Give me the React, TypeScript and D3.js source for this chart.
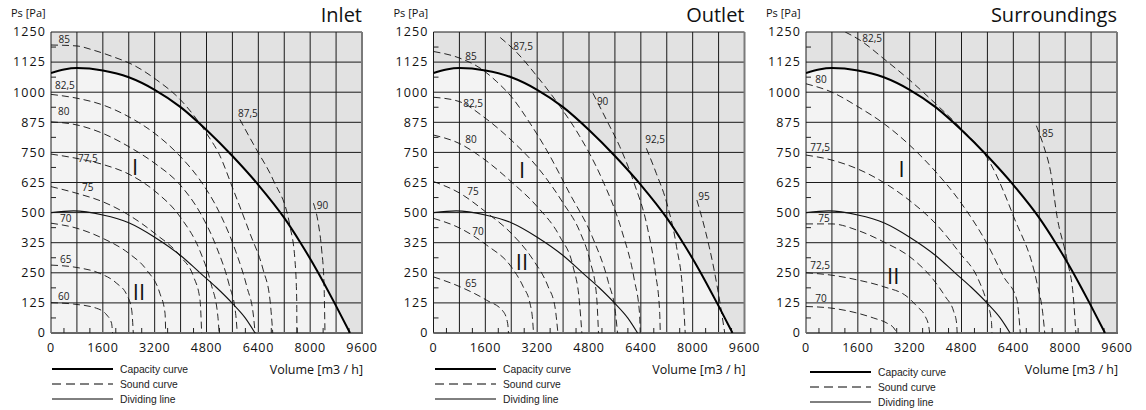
import React from 'react';
import * as d3 from 'd3';

type Pt = [number, number];
type Sound = { level: string; points: Pt[]; label: Pt };

// axes
const xTickValues = [0, 1600, 3200, 4800, 6400, 8000, 9600];
const yTickValues = [0, 125, 250, 375, 500, 625, 750, 875, 1000, 1125, 1250];
const yTickLabels = ['0', '125', '250', '325', '500', '625', '750', '875', '1000', '1125', '1250'];

// same fan in all three charts
const capacityCurve: Pt[] = [
  [0, 1080], [400, 1094], [800, 1100], [1600, 1090], [2400, 1062], [3200, 1010], [4000, 938],
  [4800, 843], [5600, 735], [6400, 615], [7200, 478], [7700, 375], [8200, 262], [8750, 125], [9230, 0],
];
const dividingLine: Pt[] = [
  [0, 500], [700, 507], [1600, 490], [2400, 458], [3200, 398], [4000, 322], [4600, 250],
  [5100, 190], [5600, 123], [6000, 62], [6300, 0],
];

const inletSound: Sound[] = [
  { level: '60', label: [216, 137], points: [[0, 126], [700, 120], [1400, 103], [1720, 75], [1870, 40], [1900, 0]] },
  { level: '65', label: [278, 291], points: [[0, 282], [800, 272], [1500, 248], [2030, 206], [2340, 158], [2490, 96], [2540, 0]] },
  { level: '70', label: [278, 461], points: [[0, 456], [800, 435], [1600, 393], [2400, 331], [2950, 262], [3360, 165], [3520, 82], [3540, 0]] },
  { level: '75', label: [957, 590], points: [[0, 608], [800, 580], [1600, 545], [2400, 490], [3200, 414], [4000, 317], [4400, 234], [4600, 137], [4650, 0]] },
  { level: '77,5', label: [833, 710], points: [[0, 743], [800, 725], [1600, 700], [2400, 660], [3200, 590], [4000, 480], [4600, 340], [4950, 200], [5150, 70], [5190, 0]] },
  { level: '80', label: [216, 905], points: [[0, 877], [800, 864], [1600, 829], [2400, 774], [3200, 705], [4000, 613], [4600, 500], [5100, 360], [5500, 200], [5700, 80], [5750, 0]] },
  { level: '82,5', label: [125, 1013], points: [[0, 991], [800, 975], [1600, 947], [2400, 898], [3200, 829], [4000, 732], [4600, 635], [5200, 500], [5700, 340], [6050, 190], [6250, 70], [6300, 0]] },
  { level: '85', label: [230, 1204], points: [[0, 1196], [800, 1192], [1300, 1175], [1900, 1148], [2540, 1113], [3260, 1051], [4000, 968], [4800, 829], [5200, 740], [5630, 594], [6140, 414], [6550, 262], [6760, 137], [6845, 0]] },
  { level: '87,5', label: [5772, 897], points: [[5830, 887], [6100, 820], [6350, 760], [6860, 635], [7380, 441], [7530, 303], [7585, 137], [7590, 0]] },
  { level: '90', label: [8201, 515], points: [[8100, 539], [8250, 456], [8355, 345], [8427, 206], [8457, 0]] },
];

const outletSound: Sound[] = [
  { level: '65', label: [982, 191], points: [[0, 233], [820, 192], [1640, 136], [2160, 88], [2290, 39], [2315, 0]] },
  { level: '70', label: [1197, 407], points: [[0, 476], [820, 435], [1640, 365], [2400, 275], [2770, 192], [2980, 122], [3060, 53], [3087, 0]] },
  { level: '75', label: [1043, 573], points: [[0, 629], [820, 580], [1600, 504], [2400, 414], [3080, 303], [3540, 192], [3750, 108], [3840, 0]] },
  { level: '80', label: [982, 789], points: [[0, 822], [800, 787], [1600, 718], [2400, 628], [3200, 525], [3900, 400], [4310, 275], [4500, 136], [4580, 0]] },
  { level: '82,5', label: [920, 939], points: [[0, 979], [800, 961], [1600, 892], [2400, 801], [3200, 690], [4000, 540], [4520, 420], [4830, 300], [5030, 160], [5093, 0]] },
  { level: '85', label: [982, 1134], points: [[0, 1169], [800, 1142], [1440, 1100], [1950, 1044], [2400, 982], [2980, 871], [3490, 760], [4200, 580], [4900, 400], [5400, 210], [5620, 80], [5680, 0]] },
  { level: '87,5', label: [2460, 1176], points: [[2060, 1227], [2570, 1165], [3190, 1067], [3910, 940], [4500, 820], [5200, 640], [5800, 430], [6200, 220], [6360, 80], [6381, 0]] },
  { level: '90', label: [5044, 947], points: [[4920, 996], [5340, 885], [5750, 774], [6200, 620], [6600, 440], [6850, 250], [6980, 90], [7000, 0]] },
  { level: '92,5', label: [6535, 789], points: [[6570, 767], [6880, 662], [7200, 540], [7500, 360], [7700, 160], [7770, 0]] },
  { level: '95', label: [8170, 552], points: [[8130, 552], [8400, 420], [8650, 270], [8850, 120], [8990, 0]] },
];

const surroundingsSound: Sound[] = [
  { level: '70', label: [287, 129], points: [[0, 110], [800, 103], [1600, 82], [2090, 62], [2500, 41], [2710, 21], [2809, 0]] },
  { level: '72,5', label: [133, 266], points: [[0, 250], [800, 240], [1600, 220], [2400, 192], [3120, 151], [3430, 110], [3680, 69], [3790, 27], [3817, 0]] },
  { level: '75', label: [380, 461], points: [[0, 453], [800, 453], [1600, 426], [2400, 378], [3210, 316], [3940, 220], [4300, 151], [4560, 89], [4650, 40], [4665, 0]] },
  { level: '77,5', label: [133, 756], points: [[0, 739], [800, 718], [1600, 681], [2400, 625], [3210, 549], [4010, 453], [4760, 330], [5280, 234], [5590, 124], [5720, 55], [5741, 0]] },
  { level: '80', label: [287, 1038], points: [[0, 1035], [800, 1000], [1600, 940], [2400, 870], [3200, 780], [4000, 670], [4760, 545], [5640, 358], [6100, 234], [6510, 137], [6615, 0]] },
  { level: '82,5', label: [1738, 1208], points: [[1210, 1250], [1680, 1215], [2400, 1139], [3210, 1049], [4010, 951], [4815, 845], [5690, 705], [6410, 483], [7130, 207], [7310, 80], [7370, 0]] },
  { level: '85', label: [7283, 814], points: [[7110, 861], [7340, 775], [7550, 670], [7750, 483], [8060, 303], [8260, 137], [8330, 0]] },
];

const panels = [
  { title: 'Inlet', sound: inletSound, zoneI: [2593, 656] as Pt, zoneII: [2716, 137] as Pt },
  { title: 'Outlet', sound: outletSound, zoneI: [2738, 644] as Pt, zoneII: [2729, 262] as Pt },
  { title: 'Surroundings', sound: surroundingsSound, zoneI: [2954, 648] as Pt, zoneII: [2691, 203] as Pt },
];

const legendItems = ['Capacity curve', 'Sound curve', 'Dividing line'];

// layout
const W = 1146;
const H = 410;
const plotTop = 32;
const plotW = 311;
const plotH = 301;
const panelLeft = [51, 433.5, 806];
const legendPos = [
  { x: 52, y: 369 },
  { x: 435, y: 369 },
  { x: 810, y: 372 },
];

const uiFont = '"Open Sans", "Noto Sans", sans-serif';
const legendFont = '"Liberation Sans", Arial, sans-serif';

function Panel({ idx }: { idx: number }) {
  const p = panels[idx];
  const left = panelLeft[idx];
  const x = d3.scaleLinear().domain([0, 9600]).range([left, left + plotW]);
  const y = d3.scaleLinear().domain([0, 1250]).range([plotTop + plotH, plotTop]);

  const line = d3.line<Pt>().x(d => x(d[0])).y(d => y(d[1])).curve(d3.curveMonotoneX);
  const area = d3.area<Pt>().x(d => x(d[0])).y0(y(0)).y1(d => y(d[1])).curve(d3.curveMonotoneX);

  const gridX = d3.range(0, 9601, 800);
  const gridY = d3.range(0, 1251, 125);
  const minorX = d3.range(400, 9600, 800);
  const minorY = d3.range(62.5, 1250, 125);
  const clipId = `clip-${idx}`;
  const lg = legendPos[idx];

  return (
    <g>
      <defs>
        <clipPath id={clipId}>
          <rect x={left} y={plotTop} width={plotW} height={plotH} />
        </clipPath>
      </defs>
      <rect x={left} y={plotTop} width={plotW} height={plotH} fill="#e2e2e2" />
      <path d={area(capacityCurve) || ''} fill="#f3f3f3" clipPath={`url(#${clipId})`} />

      {gridX.map(v => (
        <line key={'gx' + v} x1={x(v)} x2={x(v)} y1={plotTop} y2={plotTop + plotH} stroke="#1a1a1a" strokeWidth={1} />
      ))}
      {gridY.map(v => (
        <line key={'gy' + v} x1={left} x2={left + plotW} y1={y(v)} y2={y(v)} stroke="#1a1a1a" strokeWidth={1} />
      ))}
      <line x1={left + plotW} x2={left + plotW} y1={plotTop} y2={plotTop + plotH} stroke="#7a7a7a" strokeWidth={2} />
      <line x1={left} x2={left + plotW + 1} y1={plotTop + plotH} y2={plotTop + plotH} stroke="#666" strokeWidth={2} />
      {minorX.map(v => (
        <line key={'mx' + v} x1={x(v)} x2={x(v)} y1={plotTop + plotH} y2={plotTop + plotH - 5} stroke="#222" strokeWidth={1} />
      ))}
      {minorY.map(v => (
        <line key={'my' + v} x1={left} x2={left + 5} y1={y(v)} y2={y(v)} stroke="#222" strokeWidth={1} />
      ))}

      <g clipPath={`url(#${clipId})`}>
        {p.sound.map(s => (
          <path key={s.level} d={line(s.points) || ''} fill="none" stroke="#111" strokeWidth={0.9} strokeDasharray="7 4" />
        ))}
        <path d={line(dividingLine) || ''} fill="none" stroke="#111" strokeWidth={1.1} />
        <path d={line(capacityCurve) || ''} fill="none" stroke="#000" strokeWidth={2} />
      </g>

      {p.sound.map(s => (
        <text key={'l' + s.level} x={x(s.label[0])} y={y(s.label[1])} fontFamily={uiFont} fontSize={10} fill="#222">
          {s.level}
        </text>
      ))}

      <text x={x(p.zoneI[0])} y={y(p.zoneI[1])} textAnchor="middle" fontFamily={uiFont} fontSize={22} fill="#111">I</text>
      <text x={x(p.zoneII[0])} y={y(p.zoneII[1])} textAnchor="middle" fontFamily={uiFont} fontSize={22} fill="#111">II</text>

      {yTickValues.map((v, i) => (
        <text key={'yt' + v} x={left - 5} y={y(v)} dy="0.35em" textAnchor="end" fontFamily={uiFont} fontSize={12.5}
          letterSpacing={1.1} fill="#111">
          {yTickLabels[i]}
        </text>
      ))}
      {xTickValues.map(v => (
        <text key={'xt' + v} x={x(v)} y={plotTop + plotH + 19} textAnchor="middle" fontFamily={uiFont} fontSize={12.5}
          letterSpacing={0.7} fill="#111">
          {v}
        </text>
      ))}

      <text x={left - 40} y={17} fontFamily={uiFont} fontSize={11} fill="#111">Ps [Pa]</text>
      <text x={left + plotW} y={21.5} textAnchor="end" fontFamily={uiFont} fontSize={20} fill="#111">{p.title}</text>
      <text x={left + plotW + 1} y={374} textAnchor="end" fontFamily={uiFont} fontSize={12.5} fill="#111">Volume [m3 / h]</text>

      {legendItems.map((t, i) => (
        <g key={t} transform={`translate(${lg.x},${lg.y + i * 15})`}>
          <line x1={0} x2={61} y1={0} y2={0} stroke="#000"
            strokeWidth={i === 0 ? 1.8 : 1}
            strokeDasharray={i === 1 ? '9 5' : undefined} />
          <text x={68} y={3.5} fontFamily={legendFont} fontSize={10.3} fill="#222">{t}</text>
        </g>
      ))}
    </g>
  );
}

export default function App() {
  return (
    <svg width={W} height={H} style={{ position: 'absolute', left: 0, top: 0, background: '#fff' }}>
      {panels.map((_, i) => <Panel key={i} idx={i} />)}
    </svg>
  );
}
